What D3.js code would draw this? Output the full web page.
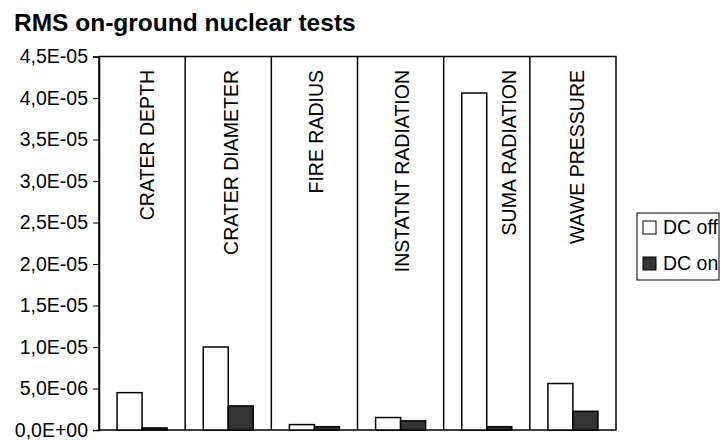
<!DOCTYPE html>
<html>
<head>
<meta charset="utf-8">
<script src="https://cdn.jsdelivr.net/npm/d3@7"></script>
<style>
  body { margin: 0; background: #fff; }
  text { font-family: "Liberation Sans", Arial, sans-serif; fill: #000; }
</style>
</head>
<body>
<script>
var categories = ["CRATER DEPTH", "CRATER DIAMETER", "FIRE RADIUS", "INSTATNT RADIATION", "SUMA RADIATION", "WAWE PRESSURE"];
var seriesNames = ["DC off", "DC on"];
var dcOff = [4.5e-6, 1.0e-5, 6.5e-7, 1.5e-6, 4.06e-5, 5.6e-6];
var dcOn = [2.5e-7, 2.9e-6, 4.0e-7, 1.1e-6, 4.0e-7, 2.25e-6];
var yTicks = [0, 5e-6, 1e-5, 1.5e-5, 2e-5, 2.5e-5, 3e-5, 3.5e-5, 4e-5, 4.5e-5];

var width = 720,
    height = 440;
var plotLeft = 99, plotRight = 616, plotTop = 56.5, plotBottom = 430;
// labels sit in hand placed text boxes, the SUMA one is pushed right of its bar
var labelShift = [12, 10, 9, 8, 29, 11];

var svg = d3.select("body").append("svg")
    .attr("width", width)
    .attr("height", height);

svg.append("rect")
    .attr("width", width)
    .attr("height", height)
    .attr("fill", "#fff");

// title
svg.append("text")
    .attr("x", 14)
    .attr("y", 31)
    .style("font-size", "24.5px")
    .style("font-weight", "bold")
    .text("RMS on-ground nuclear tests");

var x = d3.scaleBand()
    .domain(categories)
    .range([plotLeft, plotRight]);

var y = d3.scaleLinear()
    .domain([0, 4.5e-5])
    .range([plotBottom, plotTop]);

function sciFormat(d) {
    if (d === 0) return "0,0E+00";
    var s = d.toExponential(1).split("e");
    var exp = +s[1];
    var e = (exp < 0 ? "-" : "+") + (Math.abs(exp) < 10 ? "0" : "") + Math.abs(exp);
    return s[0].replace(".", ",") + "E" + e;
}

// plot frame
svg.append("rect")
    .attr("x", plotLeft)
    .attr("y", plotTop)
    .attr("width", plotRight - plotLeft)
    .attr("height", plotBottom - plotTop)
    .attr("fill", "none")
    .attr("stroke", "#000")
    .attr("stroke-width", 1.5);

// category separators
svg.selectAll(".sep").data(categories.slice(1))
    .enter().append("line")
    .attr("class", "sep")
    .attr("x1", function(d) { return x(d); })
    .attr("x2", function(d) { return x(d); })
    .attr("y1", plotTop)
    .attr("y2", plotBottom)
    .attr("stroke", "#000")
    .attr("stroke-width", 1.5);

// y axis
var yAxis = svg.append("g")
    .attr("transform", "translate(" + plotLeft + ",0)")
    .call(d3.axisLeft(y)
        .tickValues(yTicks)
        .tickFormat(sciFormat)
        .tickSize(6)
        .tickPadding(5));
yAxis.select(".domain").attr("stroke", "#000").attr("stroke-width", 1.5);
yAxis.selectAll(".tick line").attr("stroke", "#000");
yAxis.selectAll(".tick text")
    .style("font-size", "19.5px")
    .style("font-family", "'Liberation Sans', Arial, sans-serif")
    .attr("fill", "#000");

// bars
var barW = 25;
var groups = svg.selectAll(".grp").data(categories)
    .enter().append("g")
    .attr("class", "grp");

groups.append("rect")
    .attr("x", function(d) { return x(d) + x.bandwidth() / 2 - barW; })
    .attr("y", function(d, i) { return y(dcOff[i]); })
    .attr("width", barW)
    .attr("height", function(d, i) { return plotBottom - y(dcOff[i]); })
    .attr("fill", "#fff")
    .attr("stroke", "#000")
    .attr("stroke-width", 1.5);

groups.append("rect")
    .attr("x", function(d) { return x(d) + x.bandwidth() / 2; })
    .attr("y", function(d, i) { return y(dcOn[i]); })
    .attr("width", barW)
    .attr("height", function(d, i) { return plotBottom - y(dcOn[i]); })
    .attr("fill", "#333")
    .attr("stroke", "#000")
    .attr("stroke-width", 1.5);

// rotated category labels
groups.append("text")
    .attr("transform", function(d, i) {
        return "translate(" + (x(d) + x.bandwidth() / 2 + labelShift[i]) + ",70) rotate(-90)";
    })
    .attr("text-anchor", "end")
    .style("font-size", "19.5px")
    .text(function(d) { return d; });

// legend
var legend = svg.append("g");
legend.append("rect")
    .attr("x", 637)
    .attr("y", 213)
    .attr("width", 82)
    .attr("height", 67)
    .attr("fill", "#fff")
    .attr("stroke", "#000")
    .attr("stroke-width", 1);

var legFills = ["#fff", "#333"];
var items = legend.selectAll(".item").data(seriesNames)
    .enter().append("g")
    .attr("class", "item")
    .attr("transform", function(d, i) { return "translate(643," + (227 + i * 36) + ")"; });

items.append("rect")
    .attr("x", 0)
    .attr("y", -6)
    .attr("width", 13)
    .attr("height", 13)
    .attr("fill", function(d, i) { return legFills[i]; })
    .attr("stroke", "#000")
    .attr("stroke-width", 1);

items.append("text")
    .attr("x", 20)
    .attr("y", 7)
    .style("font-size", "19.5px")
    .text(function(d) { return d; });
</script>
</body>
</html>
